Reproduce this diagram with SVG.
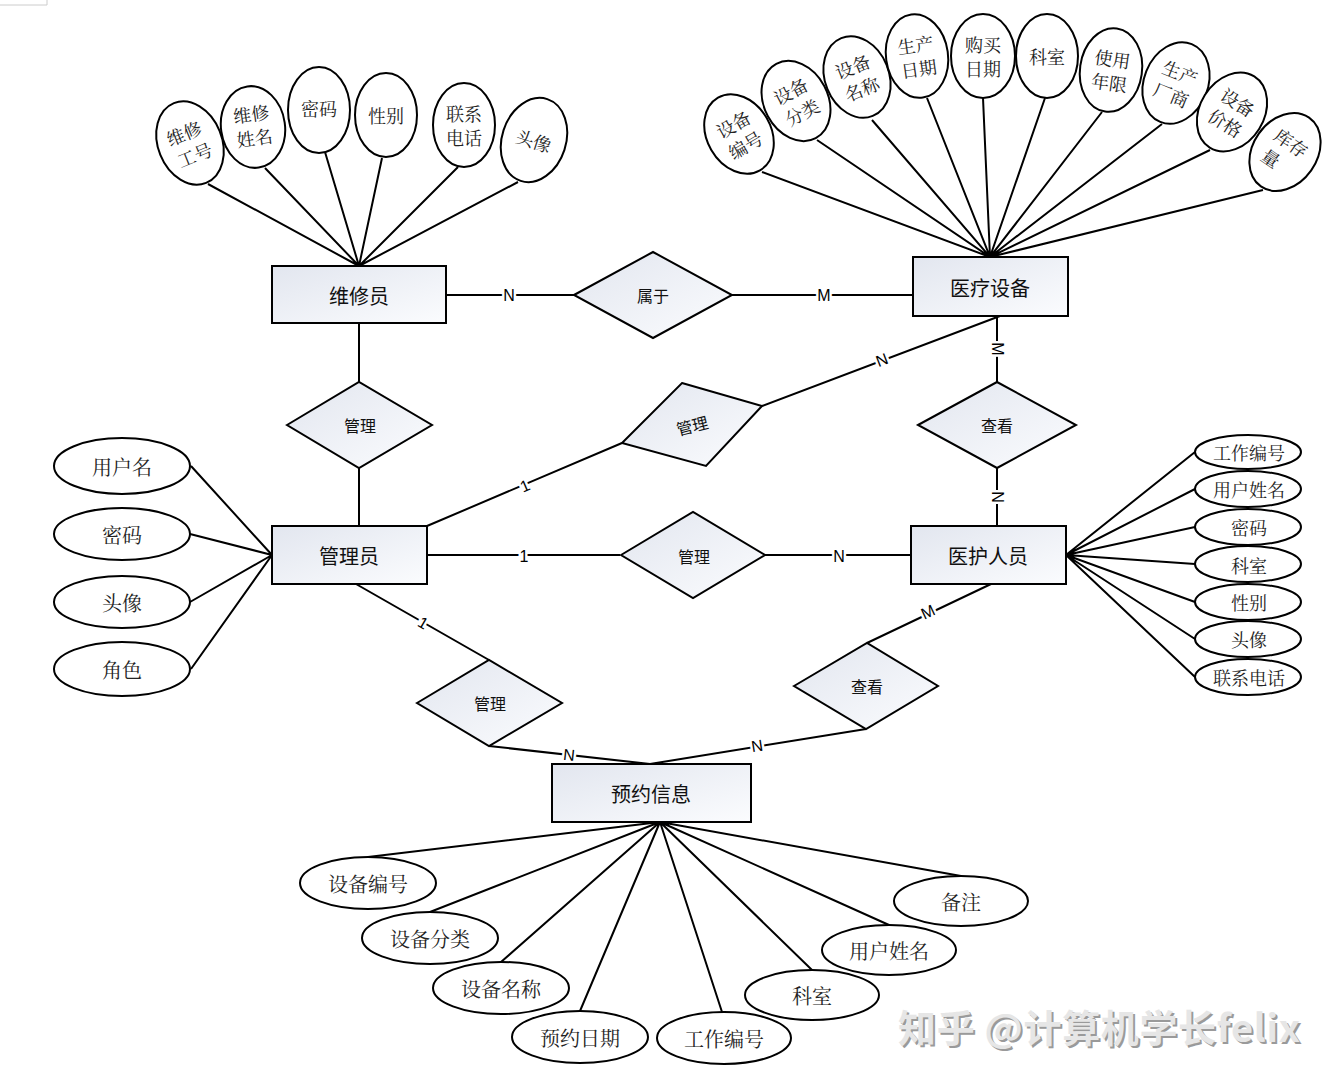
<svg xmlns="http://www.w3.org/2000/svg" width="1335" height="1083" viewBox="0 0 1335 1083">
<style>
.ln{stroke:#000;stroke-width:2;fill:none}
.ent{fill:url(#g);stroke:#000;stroke-width:2}
.rel{fill:url(#g);stroke:#000;stroke-width:2}
.att{fill:#fff;stroke:#000;stroke-width:2}
.et{font-family:"Noto Sans CJK SC",sans-serif;font-size:20px;fill:#111;text-anchor:middle;dominant-baseline:central}
.rt{font-family:"Noto Sans CJK SC",sans-serif;font-size:16px;fill:#111;text-anchor:middle;dominant-baseline:central}
.at{font-family:"Noto Serif CJK SC","Noto Sans CJK SC",serif;font-size:18px;fill:#222;text-anchor:middle;dominant-baseline:central}
.ab{font-family:"Noto Serif CJK SC","Noto Sans CJK SC",serif;font-size:20px;fill:#222;text-anchor:middle;dominant-baseline:central}
.cd{font-family:"Liberation Sans",Arial,sans-serif;font-size:16px;fill:#000;text-anchor:middle;dominant-baseline:central;stroke:#fff;stroke-width:5;paint-order:stroke}
.wm{font-family:"Noto Sans CJK SC",sans-serif;font-size:38px;font-weight:bold}
</style>
<defs>
<linearGradient id="g" x1="0" y1="0" x2="1" y2="1">
<stop offset="0" stop-color="#e2e6ef"/>
<stop offset="1" stop-color="#fbfcfe"/>
</linearGradient>
</defs>
<rect width="1335" height="1083" fill="#fff"/>
<path d="M0 5H47V0" stroke="#ccc" fill="none"/>

<g id="connectors">
<!-- 维修员 attributes -->
<path class="ln" d="M359 266L208 184M359 266L265 168M359 266L325 152M359 266L382 158M359 266L458 167M359 266L518 182"/>
<!-- 医疗设备 attributes -->
<path class="ln" d="M990 257L762 172M990 257L817 140M990 257L872 120M990 257L927 98M990 257L983 98M990 257L1045 98M990 257L1102 112M990 257L1162 124M990 257L1210 150M990 257L1263 190"/>
<!-- 管理员 attributes -->
<path class="ln" d="M272 555L191 466M272 555L190 534M272 555L190 602M272 555L191 669"/>
<!-- 医护人员 attributes -->
<path class="ln" d="M1066 555L1195 452M1066 555L1195 489M1066 555L1195 527M1066 555L1195 564M1066 555L1195 602M1066 555L1195 639M1066 555L1195 677"/>
<!-- 预约信息 attributes -->
<path class="ln" d="M660 822L368 857M660 822L430 912M660 822L501 962M660 822L580 1011M660 822L722 1012M660 822L812 970M660 822L889 925M660 822L961 876"/>
<!-- relationships -->
<path class="ln" d="M446 295H574M732 295H913M359 323V382M359 468V526M427 526L622 443M762 406L1000 316M997 316V382M997 468V526M427 555H620M765 555H911M356 584L489 660M489 746L650 764M991 584L867 643M866 729L650 764"/>
<text class="cd" x="509" y="295">N</text>
<text class="cd" x="824" y="295">M</text>
<text class="cd" transform="translate(525,486) rotate(-23)">1</text>
<text class="cd" transform="translate(882,360) rotate(-21)">N</text>
<text class="cd" transform="translate(997,349) rotate(90)">M</text>
<text class="cd" transform="translate(997,497) rotate(90)">N</text>
<text class="cd" x="524" y="556">1</text>
<text class="cd" x="839" y="556">N</text>
<text class="cd" transform="translate(423,623) rotate(30)">1</text>
<text class="cd" transform="translate(569,755) rotate(6)">N</text>
<text class="cd" transform="translate(928,612) rotate(-25)">M</text>
<text class="cd" transform="translate(757,746) rotate(-9)">N</text>
</g>

<!-- Entities -->
<g id="e-weixiuyuan"><rect class="ent" x="272" y="266" width="174" height="57"/><text class="et" x="359" y="295">维修员</text></g>
<g id="e-yiliaoshebei"><rect class="ent" x="913" y="257" width="155" height="59"/><text class="et" x="990" y="287">医疗设备</text></g>
<g id="e-guanliyuan"><rect class="ent" x="272" y="526" width="155" height="58"/><text class="et" x="349" y="555">管理员</text></g>
<g id="e-yihurenyuan"><rect class="ent" x="911" y="526" width="155" height="58"/><text class="et" x="988" y="555">医护人员</text></g>
<g id="e-yuyuexinxi"><rect class="ent" x="552" y="764" width="199" height="58"/><text class="et" x="651" y="793">预约信息</text></g>

<!-- Relationships -->
<g id="r-shuyu"><polygon class="rel" points="574,295 653,252 732,295 653,338"/><text class="rt" x="653" y="295">属于</text></g>
<g id="r-guanli1"><polygon class="rel" points="287,425 359,382 432,425 359,468"/><text class="rt" x="360" y="425">管理</text></g>
<g id="r-guanli2"><polygon class="rel" points="682,383 762,406 706,466 622,443"/><text class="rt" transform="translate(692,425) rotate(-14)">管理</text></g>
<g id="r-chakan1"><polygon class="rel" points="918,425 997,382 1076,425 997,468"/><text class="rt" x="997" y="425">查看</text></g>
<g id="r-guanli3"><polygon class="rel" points="621,555 693,512 765,555 693,598"/><text class="rt" x="694" y="556">管理</text></g>
<g id="r-guanli4"><polygon class="rel" points="417,703 489,660 562,703 489,746"/><text class="rt" x="490" y="703">管理</text></g>
<g id="r-chakan2"><polygon class="rel" points="794,686 867,643 938,686 866,729"/><text class="rt" x="867" y="686">查看</text></g>

<!-- 维修员 attributes -->
<g id="a-wx-gonghao" transform="translate(190,143) rotate(-22)"><ellipse class="att" rx="32" ry="43"/><text class="at" x="-2" y="-12">维修</text><text class="at" x="0" y="12">工号</text></g>
<g id="a-wx-xingming" transform="translate(253,127) rotate(-8)"><ellipse class="att" rx="32" ry="41"/><text class="at" y="-14">维修</text><text class="at" y="10">姓名</text></g>
<g id="a-wx-mima" transform="translate(319,110)"><ellipse class="att" rx="31" ry="43"/><text class="at" y="-2">密码</text></g>
<g id="a-wx-xingbie" transform="translate(386,115)"><ellipse class="att" rx="31" ry="42"/><text class="at" y="0">性别</text></g>
<g id="a-wx-dianhua" transform="translate(464,125)"><ellipse class="att" rx="31" ry="42"/><text class="at" y="-12">联系</text><text class="at" y="12">电话</text></g>
<g id="a-wx-touxiang" transform="translate(534,140) rotate(18)"><ellipse class="att" rx="32" ry="43"/><text class="at" y="0">头像</text></g>

<!-- 医疗设备 attributes -->
<g id="a-sb-bianhao" transform="translate(739,134) rotate(-30)"><ellipse class="att" rx="32" ry="42"/><text class="at" y="-12">设备</text><text class="at" y="12">编号</text></g>
<g id="a-sb-fenlei" transform="translate(796,101) rotate(-28)"><ellipse class="att" rx="32" ry="42"/><text class="at" y="-12">设备</text><text class="at" y="12">分类</text></g>
<g id="a-sb-mingcheng" transform="translate(857,77) rotate(-22)"><ellipse class="att" rx="32" ry="42"/><text class="at" y="-12">设备</text><text class="at" y="12">名称</text></g>
<g id="a-sb-shengchan" transform="translate(917,56) rotate(-8)"><ellipse class="att" rx="31" ry="42"/><text class="at" y="-12">生产</text><text class="at" y="12">日期</text></g>
<g id="a-sb-goumai" transform="translate(983,56)"><ellipse class="att" rx="32" ry="42"/><text class="at" y="-12">购买</text><text class="at" y="12">日期</text></g>
<g id="a-sb-keshi" transform="translate(1047,56)"><ellipse class="att" rx="31" ry="42"/><text class="at" y="0">科室</text></g>
<g id="a-sb-nianxian" transform="translate(1111,70) rotate(8)"><ellipse class="att" rx="31" ry="42"/><text class="at" y="-12">使用</text><text class="at" y="12">年限</text></g>
<g id="a-sb-changshang" transform="translate(1176,83) rotate(22)"><ellipse class="att" rx="32" ry="42"/><text class="at" y="-12">生产</text><text class="at" y="12">厂商</text></g>
<g id="a-sb-jiage" transform="translate(1232,112) rotate(32)"><ellipse class="att" rx="32" ry="42"/><text class="at" y="-12">设备</text><text class="at" y="12">价格</text></g>
<g id="a-sb-kucun" transform="translate(1285,152) rotate(35)"><ellipse class="att" rx="32" ry="42"/><text class="at" y="-12">库存</text><text class="at" x="-8" y="12">量</text></g>

<!-- 管理员 attributes -->
<g id="a-gl-yonghuming"><ellipse class="att" cx="122" cy="466" rx="68" ry="28"/><text class="ab" x="122" y="466">用户名</text></g>
<g id="a-gl-mima"><ellipse class="att" cx="122" cy="534" rx="68" ry="26"/><text class="ab" x="122" y="534">密码</text></g>
<g id="a-gl-touxiang"><ellipse class="att" cx="122" cy="602" rx="68" ry="26"/><text class="ab" x="122" y="602">头像</text></g>
<g id="a-gl-juese"><ellipse class="att" cx="122" cy="669" rx="68" ry="27"/><text class="ab" x="122" y="669">角色</text></g>

<!-- 医护人员 attributes -->
<g id="a-yh-gonghao"><ellipse class="att" cx="1248" cy="452" rx="53" ry="17"/><text class="at" x="1249" y="452">工作编号</text></g>
<g id="a-yh-xingming"><ellipse class="att" cx="1248" cy="489" rx="53" ry="18"/><text class="at" x="1249" y="489">用户姓名</text></g>
<g id="a-yh-mima"><ellipse class="att" cx="1248" cy="527" rx="53" ry="18"/><text class="at" x="1249" y="527">密码</text></g>
<g id="a-yh-keshi"><ellipse class="att" cx="1248" cy="564" rx="53" ry="18"/><text class="at" x="1249" y="565">科室</text></g>
<g id="a-yh-xingbie"><ellipse class="att" cx="1248" cy="602" rx="53" ry="18"/><text class="at" x="1249" y="602">性别</text></g>
<g id="a-yh-touxiang"><ellipse class="att" cx="1248" cy="639" rx="53" ry="18"/><text class="at" x="1249" y="639">头像</text></g>
<g id="a-yh-dianhua"><ellipse class="att" cx="1248" cy="677" rx="53" ry="18"/><text class="at" x="1249" y="677">联系电话</text></g>

<!-- 预约信息 attributes -->
<g id="a-yy-bianhao"><ellipse class="att" cx="368" cy="883" rx="68" ry="26"/><text class="ab" x="368" y="883">设备编号</text></g>
<g id="a-yy-fenlei"><ellipse class="att" cx="430" cy="938" rx="68" ry="26"/><text class="ab" x="430" y="938">设备分类</text></g>
<g id="a-yy-mingcheng"><ellipse class="att" cx="501" cy="988" rx="68" ry="26"/><text class="ab" x="501" y="988">设备名称</text></g>
<g id="a-yy-riqi"><ellipse class="att" cx="580" cy="1037" rx="68" ry="26"/><text class="ab" x="580" y="1037">预约日期</text></g>
<g id="a-yy-gonghao"><ellipse class="att" cx="724" cy="1038" rx="67" ry="26"/><text class="ab" x="724" y="1038">工作编号</text></g>
<g id="a-yy-keshi"><ellipse class="att" cx="812" cy="995" rx="67" ry="25"/><text class="ab" x="812" y="995">科室</text></g>
<g id="a-yy-xingming"><ellipse class="att" cx="889" cy="950" rx="67" ry="25"/><text class="ab" x="889" y="950">用户姓名</text></g>
<g id="a-yy-beizhu"><ellipse class="att" cx="961" cy="901" rx="67" ry="25"/><text class="ab" x="961" y="901">备注</text></g>

<!-- watermark -->
<text class="wm" x="900" y="1044" fill="#9a9a9a" textLength="402">知乎 @计算机学长felix</text>
<text class="wm" x="898" y="1042" fill="#e6e6e6" textLength="402">知乎 @计算机学长felix</text>
</svg>
